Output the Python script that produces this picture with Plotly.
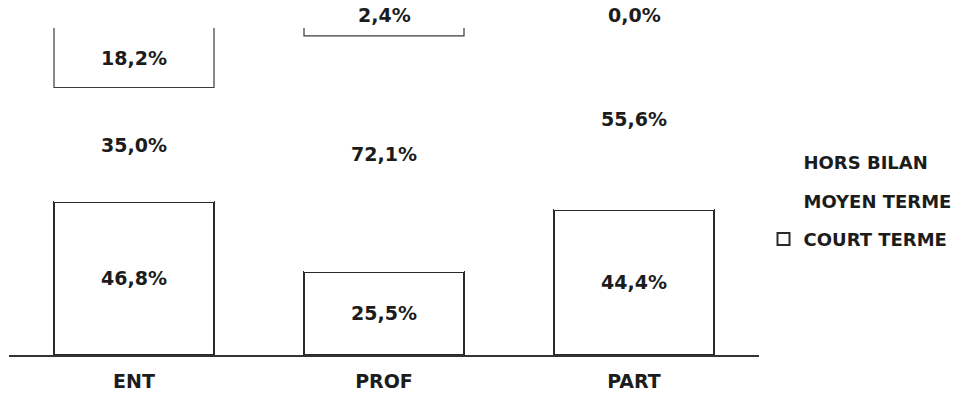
import plotly.graph_objects as go

categories = ["ENT", "PROF", "PART"]
court_terme = [46.8, 25.5, 44.4]
moyen_terme = [35.0, 72.1, 55.6]
hors_bilan = [18.2, 2.4, 0.0]

FONT = "DejaVu Sans, Arial, sans-serif"
INK = "#1c1c1c"
BAR_W = 0.64
xs = list(range(len(categories)))

fig = go.Figure()

fig.add_trace(go.Bar(
    x=xs, y=court_terme, name="COURT TERME", width=BAR_W,
    marker=dict(color="white", line=dict(color="#2a2a2a", width=2)),
    legendgroup="c", legendrank=3,
))
fig.add_trace(go.Bar(
    x=xs, y=moyen_terme, name="MOYEN TERME", width=BAR_W,
    marker=dict(color="white", line=dict(color="white", width=0)),
    legendgroup="m", legendrank=2,
))
fig.add_trace(go.Bar(
    x=xs, y=hors_bilan, name="HORS BILAN", width=BAR_W,
    marker=dict(color="white", line=dict(color="white", width=0)),
    legendgroup="h", legendrank=1,
))

# open bracket (no lid) outlining the HORS BILAN segment
bx, by = [], []
for i, (c, m, h) in enumerate(zip(court_terme, moyen_terme, hors_bilan)):
    if h <= 0:
        continue
    lo = c + m
    hi = lo + h
    bx += [i - BAR_W / 2, i - BAR_W / 2, i + BAR_W / 2, i + BAR_W / 2, None]
    by += [hi, lo, lo, hi, None]
fig.add_trace(go.Scatter(
    x=bx, y=by, mode="lines", line=dict(color="#3a3a3a", width=1.2),
    showlegend=False, hoverinfo="skip",
))

# value labels at the middle of each segment; thin segments get theirs above the bar
def fmt(v):
    return f"{v:.1f}".replace(".", ",") + "%"

LABEL_FONT = dict(family=FONT, size=19, color=INK, weight="bold")
for i in xs:
    base = 0.0
    for series in (court_terme, moyen_terme, hors_bilan):
        v = series[i]
        if v < 5:
            fig.add_annotation(x=i, y=base + v, text=fmt(v), showarrow=False,
                               yanchor="bottom", font=LABEL_FONT)
        else:
            fig.add_annotation(x=i, y=base + v / 2, text=fmt(v), showarrow=False,
                               font=LABEL_FONT)
        base += v

fig.update_layout(
    barmode="stack",
    width=964, height=393,
    margin=dict(l=9, r=205, t=28, b=38, autoexpand=False),
    paper_bgcolor="white", plot_bgcolor="white",
    showlegend=True,
    legend=dict(
        x=1.006, xanchor="left", y=0.645, yanchor="top",
        traceorder="grouped", tracegroupgap=12,
        font=dict(family=FONT, size=18, color=INK, weight="bold"),
        itemwidth=30,
    ),
    xaxis=dict(
        range=[-0.5, 2.5], tickvals=xs, ticktext=categories,
        showline=True, linecolor="#333333", linewidth=1.5,
        showgrid=False, zeroline=False, ticks="",
        ticklabelstandoff=8, automargin=False,
        tickfont=dict(family=FONT, size=19, color=INK, weight="bold"),
    ),
    yaxis=dict(range=[0, 100], visible=False, showgrid=False, zeroline=False),
)

fig.write_html("out.html")
